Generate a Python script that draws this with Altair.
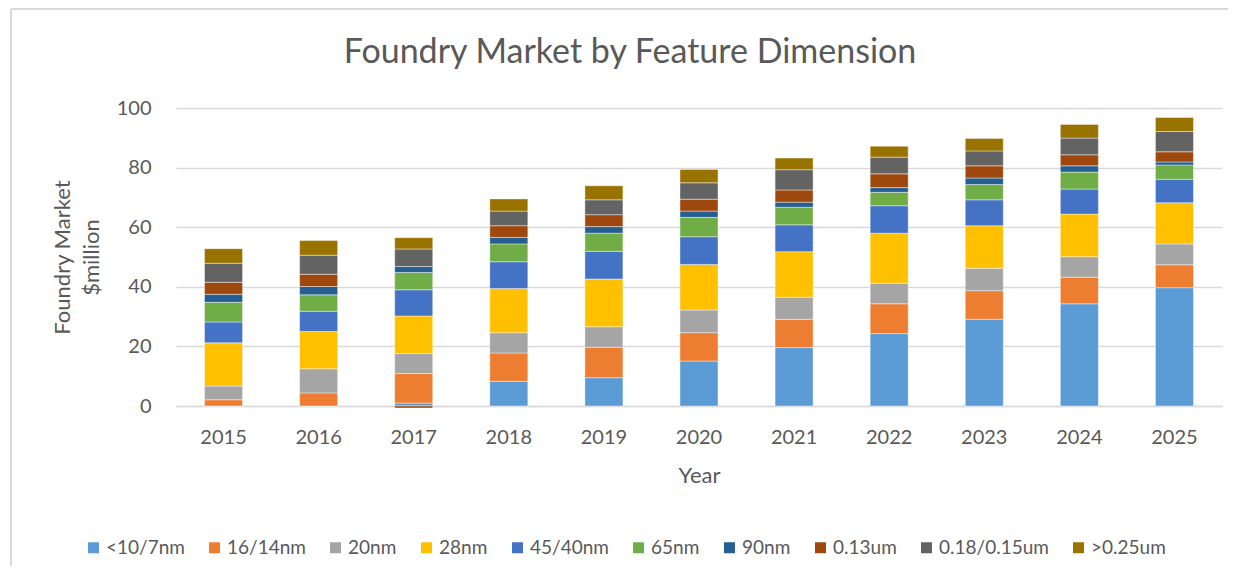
import altair as alt
import pandas as pd

years = ["2015", "2016", "2017", "2018", "2019", "2020", "2021", "2022", "2023", "2024", "2025"]
nodes = ["<10/7nm", "16/14nm", "20nm", "28nm", "45/40nm", "65nm", "90nm", "0.13um", "0.18/0.15um", ">0.25um"]
colors = ["#5B9BD5", "#ED7D31", "#A5A5A5", "#FFC000", "#4472C4", "#70AD47", "#255E91", "#9E480E", "#636363", "#997300"]
title_text = ["Foundry Market by Feature Dimension"]

v_7nm   = [0.0, 0.0, 1.0, 8.3, 9.5, 15.1, 19.6, 24.3, 29.1, 34.3, 39.7]
v_14nm  = [2.1, 4.4, 9.9, 9.5, 10.2, 9.5, 9.5, 10.0, 9.6, 8.9, 7.7]
v_20nm  = [4.6, 8.1, 6.7, 6.8, 6.9, 7.6, 7.4, 6.9, 7.5, 6.9, 7.0]
v_28nm  = [14.5, 12.5, 12.6, 14.8, 16.0, 15.3, 15.3, 16.8, 14.3, 14.3, 13.8]
v_40nm  = [7.0, 6.8, 8.8, 9.0, 9.3, 9.3, 9.0, 9.2, 8.7, 8.4, 7.9]
v_65nm  = [6.6, 5.5, 5.8, 6.0, 6.1, 6.5, 5.9, 4.5, 5.1, 5.7, 4.8]
v_90nm  = [2.7, 2.8, 2.0, 2.2, 2.2, 2.1, 1.7, 1.6, 2.2, 2.1, 1.0]
v_013um = [4.0, 4.1, -0.7, 3.9, 4.0, 4.0, 4.1, 4.6, 4.1, 3.7, 3.4]
v_018um = [6.4, 6.4, 5.9, 4.9, 5.0, 5.5, 6.8, 5.6, 5.0, 5.6, 6.8]
v_025um = [4.9, 4.9, 3.8, 4.1, 4.7, 4.5, 3.9, 3.7, 4.2, 4.6, 4.7]

series = [v_7nm, v_14nm, v_20nm, v_28nm, v_40nm, v_65nm, v_90nm, v_013um, v_018um, v_025um]

rows = []
for i, (name, vals) in enumerate(zip(nodes, series)):
    for y, v in zip(years, vals):
        rows.append({"Year": y, "Node": name, "Value": v, "order": i})
df = pd.DataFrame(rows)
tdf = pd.DataFrame({"t": title_text})

FONT = "Lato"
GREY = "#595959"

bars = alt.Chart(df).mark_bar(stroke="white", strokeWidth=0.6, strokeOpacity=0.7).encode(
    x=alt.X("Year:N", sort=years, scale=alt.Scale(paddingInner=0.6, paddingOuter=0.3),
            axis=alt.Axis(title="Year", labelAngle=0, ticks=False, domainColor="#d9d9d9",
                          domainWidth=1.5, labelFontSize=20, labelPadding=21,
                          titleFontSize=22, titlePadding=18, titleFontWeight="normal")),
    y=alt.Y("Value:Q", stack="zero", scale=alt.Scale(domain=[0, 100], nice=False),
            axis=alt.Axis(values=[0, 20, 40, 60, 80, 100], ticks=False, domain=False,
                          labelFontSize=20, labelPadding=25, gridColor="#d9d9d9",
                          gridWidth=1.5,
                          title=["Foundry Market", "$million"], titleFontSize=22,
                          titleFontWeight="normal", titleLineHeight=29,
                          titleX=-114, titleY=149, titleAngle=270,
                          titleBaseline="middle", titleAlign="center")),
    color=alt.Color("Node:N", sort=nodes, scale=alt.Scale(domain=nodes, range=colors),
                    legend=alt.Legend(title=None, orient="none", direction="horizontal",
                                      columns=10, legendX=-92, legendY=430,
                                      symbolType="square", symbolSize=121,
                                      symbolStrokeWidth=0, labelFontSize=19,
                                      labelColor=GREY, columnPadding=20,
                                      labelOffset=3)),
    order=alt.Order("order:Q", sort="ascending"),
)

title = alt.Chart(tdf).mark_text(font=FONT, fontSize=34, color=GREY, align="center",
                                 baseline="middle").encode(
    text="t:N", x=alt.value(454), y=alt.value(-55))

border_top = alt.Chart(tdf).mark_rule(color="#d9d9d9", strokeWidth=2).encode(
    x=alt.value(-165), x2=alt.value(1052), y=alt.value(-99))
border_left = alt.Chart(tdf).mark_rule(color="#d9d9d9", strokeWidth=2).encode(
    x=alt.value(-165), y=alt.value(-99), y2=alt.value(470))

chart = alt.layer(bars, title, border_top, border_left).properties(
    width=1046, height=298,
    autosize=alt.AutoSizeParams(type="none"),
    padding={"left": 168, "top": 100, "right": 7, "bottom": 160},
).configure_axis(
    labelFont=FONT, titleFont=FONT, labelColor=GREY, titleColor=GREY,
).configure_legend(labelFont=FONT).configure_view(stroke=None)

chart.save("out.html", embed_options={"renderer": "svg", "actions": False})
